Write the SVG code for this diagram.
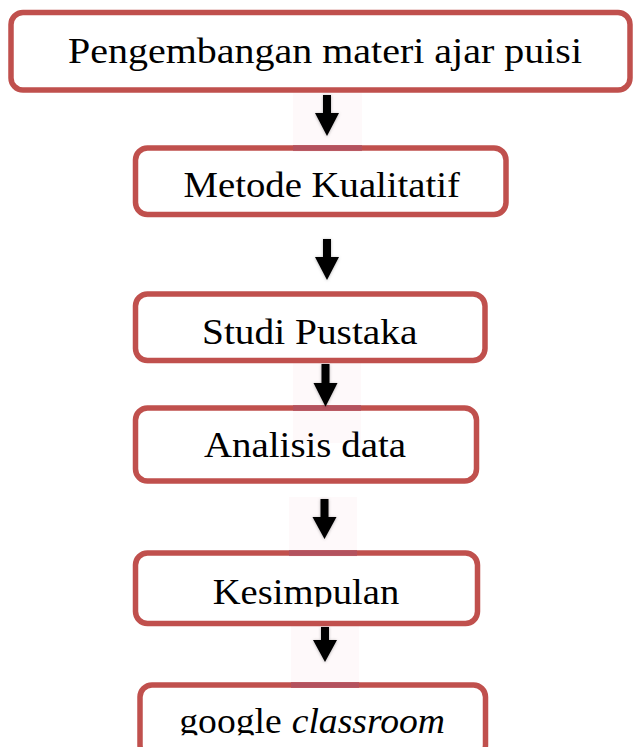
<svg xmlns="http://www.w3.org/2000/svg" width="633" height="747" viewBox="0 0 633 747">
  <defs>
    <style>
      .box { fill: none; stroke: #c0504d; stroke-width: 5.5; }
      .lbl { font-family: "Liberation Serif", "Times New Roman", serif; font-size: 36px; fill: #000; }
      .it { font-style: italic; }
      .patch { fill: #fef9fa; }
      .seam { stroke: #b3525e; stroke-width: 5.5; }
      .arrow { fill: #000; filter: url(#sh); }
    </style>
    <filter id="sh" x="-50%" y="-50%" width="200%" height="200%">
      <feDropShadow dx="0" dy="0.5" stdDeviation="1.4" flood-color="#000" flood-opacity="0.3"/>
    </filter>
    <clipPath id="clip5"><rect x="0" y="0" width="633" height="606.7"/></clipPath>
    <clipPath id="clip6"><rect x="0" y="0" width="633" height="735.3"/></clipPath>
  </defs>
  <rect width="633" height="747" fill="#fff"/>

  <g id="patches">
    <rect class="patch" x="293" y="92" width="69" height="60"/>
    <rect class="patch" x="293" y="362" width="68" height="81"/>
    <rect class="patch" x="289" y="497" width="68" height="60"/>
    <rect class="patch" x="291" y="622" width="68" height="66"/>
  </g>

  <g id="node1">
    <rect class="box" x="11" y="12.5" width="619" height="77.5" rx="12"/>
    <text class="lbl" x="68" y="63" textLength="514" lengthAdjust="spacingAndGlyphs">Pengembangan materi ajar puisi</text>
  </g>
  <g id="node2">
    <rect class="box" x="135.5" y="148" width="370.5" height="66.5" rx="12"/>
    <text class="lbl" x="183.5" y="196.7" textLength="276.5" lengthAdjust="spacingAndGlyphs">Metode Kualitatif</text>
  </g>
  <g id="node3">
    <rect class="box" x="135.5" y="294" width="349.5" height="66.5" rx="12"/>
    <text class="lbl" x="202" y="344.3" textLength="215.5" lengthAdjust="spacingAndGlyphs">Studi Pustaka</text>
  </g>
  <g id="node4">
    <rect class="box" x="135.5" y="408" width="341" height="73" rx="12"/>
    <text class="lbl" x="204" y="457.3" textLength="202" lengthAdjust="spacingAndGlyphs">Analisis data</text>
  </g>
  <g id="node5">
    <rect class="box" x="135.5" y="553" width="342" height="70.5" rx="12"/>
    <text class="lbl" x="212.7" y="604.3" textLength="186.6" lengthAdjust="spacingAndGlyphs" clip-path="url(#clip5)">Kesimpulan</text>
  </g>
  <g id="node6">
    <rect class="box" x="140" y="685" width="345.5" height="72" rx="12"/>
    <g clip-path="url(#clip6)">
      <text class="lbl" x="179.3" y="732.5" textLength="102.4" lengthAdjust="spacingAndGlyphs">google</text>
      <text class="lbl it" x="291.7" y="732.5" textLength="153.3" lengthAdjust="spacingAndGlyphs">classroom</text>
    </g>
  </g>

  <g id="seams">
    <line class="seam" x1="293" y1="148" x2="362" y2="148"/>
    <line class="seam" x1="293" y1="408" x2="361" y2="408"/>
    <line class="seam" x1="289" y1="553" x2="357" y2="553"/>
    <line class="seam" x1="291" y1="685" x2="359" y2="685"/>
  </g>

  <g id="connectors">
    <polygon class="arrow" points="323,95 331,95 331,113 339,113 327,136 315,113 323,113"/>
    <polygon class="arrow" points="323,239 331,239 331,257 339,257 327,280 315,257 323,257"/>
    <polygon class="arrow" points="321.5,364 329.5,364 329.5,383 337.5,383 325.5,406.7 313.5,383 321.5,383"/>
    <polygon class="arrow" points="320.5,499 328.5,499 328.5,517 336.5,517 324.5,539 312.5,517 320.5,517"/>
    <polygon class="arrow" points="321,627 329,627 329,640 337,640 325,662 313,640 321,640"/>
  </g>
</svg>
